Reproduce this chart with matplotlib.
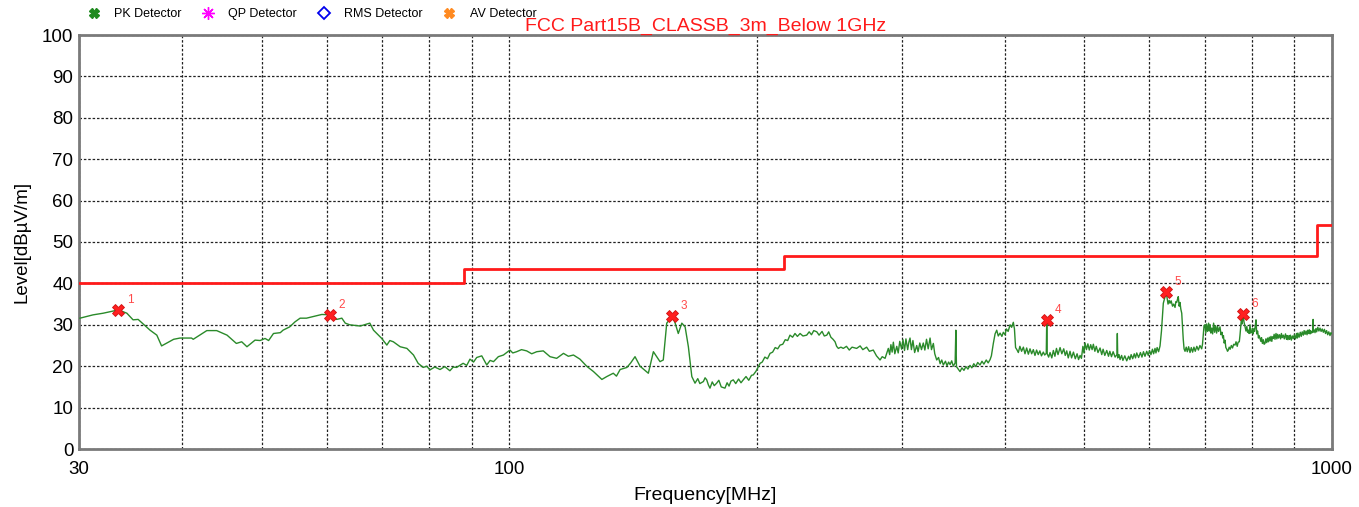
import matplotlib
matplotlib.use("Agg")
import matplotlib.pyplot as plt
from matplotlib.lines import Line2D
from matplotlib.ticker import FixedLocator, NullLocator

plt.rcParams['font.family'] = ['Liberation Sans', 'DejaVu Sans']

# ---- data: PK detector trace, split in frequency bands ----
freq_a = [30.08, 31.2, 32.1, 33.5, 34.3, 34.9, 35.4, 36.6, 37.3, 37.8,
          39.1, 39.8, 41.1, 41.3, 42.9, 44.1, 45.4, 46.6, 47.3, 48.0,
          49.1, 49.8, 50.5, 51.0, 51.7, 52.7, 53.1, 54.1, 54.9, 55.7,
          56.7, 57.8, 59.2, 60.6, 61.7, 62.6, 63.2, 64.0, 65.9, 67.7,
          68.4, 70.0, 71.0, 71.6, 72.3, 73.7, 75.1, 76.5, 77.5, 78.6,
          79.4, 80.1, 81.2, 82.4, 83.5, 84.7, 85.5, 86.3, 87.9, 88.8,
          89.6, 90.5, 91.3, 92.6, 93.9, 94.8, 95.7, 97.0, 98.4, 100.2,
          101.0, 102.1, 103.5, 105.0, 106.5, 108.0, 110.0, 112.1, 114.2, 116.4,
          118.0, 119.7, 121.9, 124.2, 126.6, 129.6, 131.4, 133.8, 135.0, 136.4,
          139.0, 140.5, 142.2, 144.2, 147.6, 149.7, 152.5, 153.9, 155.4, 157.9,
          159.1, 160.5, 162.1, 163.6, 165.1, 166.7]
level_a = [31.6, 32.4, 32.8, 33.6, 32.8, 31.2, 31.3, 28.7, 27.5, 24.9,
           26.5, 26.8, 26.8, 26.5, 28.6, 28.6, 27.5, 25.5, 25.9, 24.7,
           26.3, 26.2, 26.7, 26.2, 27.9, 28.1, 28.7, 29.5, 30.7, 31.6,
           31.6, 32.0, 32.5, 32.4, 31.3, 31.6, 30.4, 30.0, 29.7, 30.4,
           28.7, 26.7, 25.1, 26.2, 25.9, 24.7, 24.3, 22.7, 20.7, 19.7,
           20.0, 19.1, 19.8, 19.2, 19.9, 18.9, 19.8, 19.7, 20.7, 20.2,
           21.7, 21.0, 22.1, 22.5, 20.3, 21.4, 21.1, 22.3, 22.7, 23.9,
           23.2, 23.5, 24.0, 23.7, 23.0, 23.5, 23.7, 22.3, 21.9, 23.1,
           22.4, 22.7, 21.7, 20.0, 18.7, 16.8, 17.5, 18.3, 17.6, 19.2,
           19.7, 20.8, 22.3, 20.0, 18.3, 23.5, 21.1, 21.5, 30.4, 32.1,
           30.4, 27.9, 30.4, 29.5, 24.7, 17.5]

freq_b = [168.2, 169.5, 170.5, 172.2, 173.0, 173.8, 174.6, 175.4, 176.5, 177.5,
          178.7, 179.8, 181.0, 182.9, 184.0, 185.0, 186.0, 187.2, 188.5, 190.0,
          191.3, 192.5, 194.0, 195.5, 197.0, 198.0, 199.5, 201.8, 203.0, 204.5,
          206.0, 207.5, 209.0, 210.5, 212.0, 213.4, 215.0, 216.5, 218.0, 219.4,
          221.0, 222.5, 224.0, 225.7, 227.5, 229.9, 231.5, 233.0, 234.5, 236.5,
          238.0, 240.0, 241.5, 243.2, 244.5, 246.0, 247.5, 248.9, 250.0, 251.2,
          253.0]
level_b = [15.9, 17.0, 15.8, 16.3, 17.2, 16.7, 15.5, 14.7, 16.2, 15.3,
           15.9, 16.6, 15.0, 14.7, 16.0, 15.2, 16.4, 16.7, 15.8, 16.9,
           16.0, 16.7, 17.5, 16.6, 17.8, 17.9, 18.8, 20.7, 21.0, 22.2,
           21.8, 23.1, 23.4, 24.5, 24.2, 25.1, 25.3, 26.4, 26.2, 27.5,
           27.0, 27.9, 27.2, 27.9, 27.3, 27.5, 28.3, 27.6, 28.6, 28.3,
           27.5, 28.4, 27.3, 27.5, 28.3, 27.0, 26.5, 25.9, 24.8, 24.3,
           24.6]

freq_c = [254.7, 257.0, 259.0, 261.0, 264.4, 267.0, 269.0, 271.9, 274.0, 277.0,
          279.5, 282.3, 284.0, 286.3, 288.9, 290.0, 291.0, 292.0, 293.0, 294.2,
          295.8, 297.0, 298.3, 299.9, 301.0, 302.3, 303.5, 305.0, 306.0, 307.0,
          308.2, 309.5, 311.0, 312.8, 314.0, 315.5, 317.0, 318.6, 320.0, 321.5,
          323.0, 324.7, 326.0, 327.7, 329.0, 330.8, 332.5, 334.0, 335.5, 337.0,
          339.0, 340.5, 342.0, 343.4, 345.0, 346.5, 348.3, 349.0, 349.6, 351.0,
          353.1, 355.0, 357.0, 359.0, 361.0, 363.1, 365.0, 367.0, 369.0, 371.0,
          373.4, 375.5, 377.5, 380.0, 382.0, 384.1, 385.5, 387.6, 389.5, 391.3,
          393.0, 395.0, 397.0, 398.6, 400.5, 402.0, 404.0, 406.2, 408.0, 409.9,
          411.2, 412.5, 414.0, 415.7]
level_c = [24.3, 24.8, 23.9, 24.6, 24.3, 24.9, 24.0, 24.6, 23.6, 23.9,
           22.5, 21.5, 22.3, 21.9, 24.3, 22.8, 25.2, 23.4, 25.8, 23.0,
           24.8, 23.2, 26.0, 24.1, 26.4, 23.8, 26.6, 24.0, 25.8, 26.8,
           24.0, 26.2, 23.3, 25.0, 23.5, 25.6, 24.0, 25.6, 23.9, 26.5,
           24.2, 26.8, 24.0, 25.5, 23.0, 21.5, 22.1, 20.6, 21.5, 20.3,
           21.2, 20.1, 21.0, 20.4, 21.3, 20.0, 20.8, 28.7, 19.9, 19.4,
           18.7, 19.6, 19.0, 19.9, 19.3, 20.2, 19.6, 20.6, 19.9, 20.9,
           20.3, 21.2, 20.5, 21.5, 20.8, 21.6, 22.5, 25.5, 27.8, 28.7,
           27.3, 28.0, 27.2, 28.2, 27.6, 29.0, 28.4, 30.0, 29.4, 30.6,
           29.0, 24.5, 24.0, 23.3]

freq_d = [417.5, 419.5, 421.6, 423.5, 425.5, 427.5, 429.5, 431.5, 433.5, 435.5,
          437.5, 439.5, 441.5, 443.5, 445.8, 447.5, 449.5, 450.1, 450.7, 452.5,
          454.3, 456.5, 458.5, 460.5, 462.5, 464.5, 467.2, 469.5, 472.0, 474.0,
          476.0, 478.0, 480.4, 482.5, 485.0, 487.5, 490.0, 492.0, 494.1, 496.0,
          498.0, 499.5, 501.0, 503.0, 505.0, 507.0, 509.0, 511.0, 512.8, 515.0,
          517.0, 519.5, 522.5, 525.0, 527.0, 529.5, 532.4, 535.0, 537.0, 539.5,
          542.0, 545.0, 547.8, 548.4, 549.0, 551.0, 552.6, 555.0, 557.0, 560.0,
          563.0, 566.0, 568.0, 570.0, 572.5, 575.0, 577.0, 579.0, 582.0, 585.0,
          587.5, 590.0, 592.5, 595.4, 598.0, 600.0, 602.5, 605.0, 607.0, 609.4,
          611.0, 613.0, 615.5, 618.0, 620.5, 623.7, 626.0, 628.4, 630.0, 632.0,
          634.0, 635.5, 637.5, 640.0, 642.0, 644.5, 646.0, 647.5, 649.0, 650.4,
          652.0, 653.5, 655.0, 656.7, 658.0, 659.5, 661.0, 662.8, 665.0, 667.0,
          669.5, 672.1, 674.5, 677.0, 679.5, 682.0, 685.0, 688.0, 691.0, 694.4,
          696.0, 697.5, 699.0]
level_d = [24.8, 23.6, 24.6, 23.0, 24.4, 22.9, 24.2, 23.0, 24.0, 22.6,
           23.9, 22.8, 23.7, 22.5, 23.4, 22.7, 23.1, 31.2, 23.0, 22.2,
           23.3, 22.0, 23.8, 22.4, 24.3, 22.8, 24.5, 23.0, 24.2, 22.6,
           23.7, 22.0, 23.6, 22.0, 23.4, 21.8, 23.0, 21.6, 22.6, 21.9,
           24.8, 23.2, 25.6, 24.0, 25.4, 23.9, 25.2, 24.0, 25.3, 23.6,
           24.8, 23.3, 24.4, 22.8, 24.1, 22.6, 23.8, 22.4, 23.6, 22.3,
           23.5, 22.2, 22.8, 27.9, 22.0, 22.8, 21.6, 22.6, 21.4, 22.5,
           21.3, 22.4, 21.6, 22.8, 21.8, 23.0, 22.0, 23.2, 22.1, 23.3,
           22.2, 23.5, 22.4, 23.6, 22.6, 23.8, 22.8, 24.1, 23.0, 24.3,
           23.2, 24.5, 23.5, 24.9, 28.5, 35.2, 36.4, 37.9, 36.8, 35.0,
           35.9, 35.2, 35.8, 34.5, 35.0, 34.2, 35.6, 35.4, 36.2, 36.8,
           34.5, 35.4, 33.8, 32.8, 30.0, 26.5, 24.2, 23.6, 24.6, 23.5,
           24.7, 23.3, 24.5, 23.4, 24.6, 23.6, 24.8, 23.9, 25.0, 24.2,
           25.3, 27.5, 29.8]

freq_e = [700.9, 702.5, 704.0, 706.0, 708.0, 709.5, 711.0, 712.5, 714.2, 716.0,
          718.0, 720.0, 722.0, 724.0, 726.0, 728.0, 730.9, 733.0, 735.0, 736.5,
          738.0, 739.5, 741.2, 743.0, 744.5, 746.5, 748.1, 750.0, 752.0, 754.5,
          757.0, 759.5, 762.3, 764.5, 767.0, 769.0, 771.5, 773.0, 774.5, 776.0,
          777.5, 779.0, 780.2, 781.5, 783.0, 784.5, 786.0, 788.0, 789.5, 791.2,
          793.0, 795.0, 796.5, 798.7, 800.5, 802.0, 803.5, 805.0, 806.5, 808.4,
          810.0, 812.0, 814.0, 815.5, 817.5, 819.5, 821.0, 823.0, 825.0, 827.0,
          829.0, 831.0, 833.0, 835.0, 837.0, 839.0, 841.0, 843.0, 845.0, 846.5,
          848.5, 850.5, 852.5, 855.0, 857.0, 859.0, 861.0, 863.5, 866.0, 868.0,
          870.0, 872.6, 875.0, 878.0, 880.5, 882.0, 884.0, 886.5, 888.0, 890.0,
          892.5, 895.0, 897.4, 900.0, 903.0, 905.5, 907.5, 909.0, 912.0, 915.0,
          917.5, 920.0, 922.9, 925.0, 927.5, 930.0, 932.5, 934.5, 936.0, 938.5,
          940.5, 942.0, 944.5, 946.5, 947.7, 948.5, 949.3, 951.0, 953.6, 956.0,
          958.0, 961.0, 964.0, 967.0, 970.0, 973.0, 976.0, 979.0, 982.0, 985.0,
          988.0, 991.0, 994.4, 997.0, 1000.0]
level_e = [30.0, 28.0, 30.2, 28.4, 30.4, 28.5, 30.0, 28.0, 29.2, 27.8,
           30.4, 28.2, 29.8, 28.0, 29.6, 28.4, 29.5, 27.6, 28.2, 26.8,
           27.4, 25.6, 26.3, 24.5, 24.2, 23.6, 23.9, 24.6, 24.1, 25.0,
           24.4, 25.3, 25.1, 25.9, 24.8, 25.8, 25.9, 27.5, 29.5, 31.4,
           30.2, 31.8, 32.6, 30.8, 30.0, 29.2, 28.5, 29.6, 28.2, 28.7,
           27.9, 30.0, 28.0, 28.3, 29.2, 27.8, 29.0, 28.4, 29.5, 31.2,
           27.8, 28.5, 26.8, 27.4, 26.7, 26.0, 26.9, 25.5, 26.4, 25.3,
           25.5, 26.6, 25.7, 26.8, 25.9, 27.0, 26.1, 27.2, 26.0, 27.1,
           26.7, 27.7, 26.5, 27.9, 26.6, 27.7, 26.8, 27.6, 26.6, 27.9,
           26.9, 27.5, 26.6, 27.8, 26.5, 27.4, 26.4, 27.4, 26.5, 27.5,
           26.3, 27.3, 26.7, 27.6, 26.6, 27.9, 26.8, 28.0, 27.0, 28.2,
           27.2, 28.3, 27.5, 28.6, 27.7, 28.5, 27.6, 28.7, 27.9, 28.8,
           27.8, 28.6, 28.0, 28.4, 28.2, 31.3, 28.3, 28.8, 28.1, 29.1,
           28.3, 29.4, 28.5, 29.2, 28.4, 29.0, 28.2, 28.9, 27.9, 28.6,
           27.6, 28.3, 27.4, 28.1, 27.8]

limit_freq_mhz = [30, 88, 88, 216, 216, 960, 960, 1000]
limit_level = [40.0, 40.0, 43.5, 43.5, 46.5, 46.5, 54.0, 54.0]

marker_freq_mhz = [33.5, 60.6, 157.9, 450.1, 628.4, 780.2]
marker_level = [33.6, 32.4, 32.1, 31.2, 37.9, 32.6]
marker_ids = ["1", "2", "3", "4", "5", "6"]

grid_freqs = [30, 40, 50, 60, 70, 80, 90, 100, 200, 300, 400, 500, 600, 700, 800, 900, 1000]
x_tick_labels = {30: "30", 100: "100", 1000: "1000"}
y_ticks = list(range(0, 101, 10))

legend_names = ["PK Detector", "QP Detector", "RMS Detector", "AV Detector"]
title = "FCC Part15B_CLASSB_3m_Below 1GHz"

freq_mhz = freq_a + freq_b + freq_c + freq_d + freq_e
level_dbuv = level_a + level_b + level_c + level_d + level_e

# ---- figure ----
W, H = 1359, 507
fig = plt.figure(figsize=(W / 100, H / 100), dpi=100)
ax = fig.add_axes([79 / W, 1 - 449 / H, (1332 - 79) / W, (449 - 35) / H])

ax.set_xscale('log')
ax.set_xlim(30, 1000)
ax.set_ylim(0, 100)

ax.plot(limit_freq_mhz, limit_level, color='#ff1a1a', lw=2.0, zorder=3)
ax.plot(freq_mhz, level_dbuv, color='#2a8a2a', lw=1.0, zorder=4)
ax.plot(marker_freq_mhz, marker_level, linestyle='none', marker='X', markersize=9,
        markerfacecolor='#ff2020', markeredgecolor='#d01010', markeredgewidth=0.6, zorder=5)
for f, l, t in zip(marker_freq_mhz, marker_level, marker_ids):
    ax.annotate(t, (f, l), xytext=(6, 5), textcoords='offset points',
                color='#ff4a4a', fontsize=8.5, zorder=6)

ax.xaxis.set_major_locator(FixedLocator(grid_freqs))
ax.xaxis.set_minor_locator(NullLocator())
ax.set_xticklabels([x_tick_labels.get(g, "") for g in grid_freqs])
ax.set_yticks(y_ticks)
ax.tick_params(axis='both', length=0, labelsize=13.5)
ax.tick_params(axis='x', pad=9)
ax.tick_params(axis='y', pad=4)

ax.grid(True, which='major', color='#222222', lw=0.9, linestyle=(0, (2, 1.5)))
ax.set_axisbelow(True)
for s in ax.spines.values():
    s.set_color('#7a7a7a')
    s.set_linewidth(2)

ax.set_xlabel("Frequency[MHz]", fontsize=14, labelpad=6)
ax.set_ylabel("Level[dBµV/m]", fontsize=13.5, labelpad=8)
ax.set_title(title, color='#ff1a1a', fontsize=14, pad=3)

handles = [
    Line2D([], [], linestyle='none', marker='X', color='#1f8a1f', markersize=7),
    Line2D([], [], linestyle='none', marker=(8, 2, 0), color='#ff00ff', markersize=9),
    Line2D([], [], linestyle='none', marker='D', markerfacecolor='none',
           markeredgecolor='#0000ee', markeredgewidth=1.3, markersize=6),
    Line2D([], [], linestyle='none', marker='X', color='#ff8a20', markersize=7),
]
fig.legend(handles, legend_names, loc='upper left', bbox_to_anchor=(76 / W, 1.006),
           ncol=4, frameon=False, fontsize=9, handlelength=1.0, handletextpad=1.15,
           columnspacing=1.6)

fig.savefig("out.png", dpi=100)
